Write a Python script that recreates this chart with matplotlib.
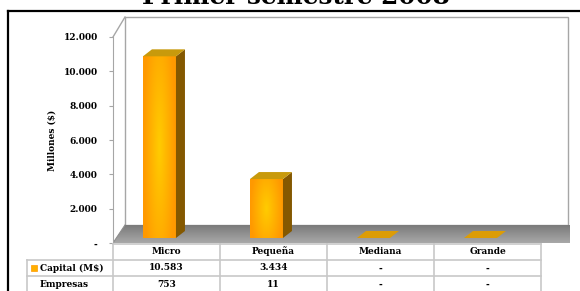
import numpy as np
import matplotlib
matplotlib.use("Agg")
import matplotlib.pyplot as plt
from matplotlib.patches import Polygon, Rectangle
from matplotlib.lines import Line2D

# datos del grafico
titulo = "Primer semestre 2008"
categorias = ["Micro", "Pequeña", "Mediana", "Grande"]
capital = [10583, 3434, 0, 0]      # millones de $
empresas = [753, 11, 0, 0]
serie_capital = "Capital (M$)"
serie_empresas = "Empresas"
eje_y = "Millones ($)"
ticks_y = [0, 2000, 4000, 6000, 8000, 10000, 12000]

W, H = 580, 291
plt.rcParams['font.family'] = ['DejaVu Serif']
plt.rcParams['font.weight'] = 'bold'


def fmt(v):
    # separador de miles con punto, cero como guion
    if v == 0:
        return "-"
    return "{:,}".format(v).replace(",", ".")


def fx(px):
    return px / W


def fy(py):
    return 1 - py / H


fig = plt.figure(figsize=(W / 100, H / 100), dpi=100)

# marco exterior
fig.add_artist(Line2D([fx(8), fx(8)], [fy(11), 0], color='black', lw=1.6))
fig.add_artist(Line2D([fx(8), 1], [fy(11), fy(11)], color='black', lw=1.6))

fig.text(fx(296), fy(3.5), titulo, ha='center', va='baseline', fontsize=17.8,
         fontweight='bold')

ax = fig.add_axes([fx(113), fy(243), (541 - 113) / W, 206 / H])
ax.set_xlim(-0.5, 3.5)
ax.set_ylim(0, 12000)
upx = 1.0 / 107          # unidades x por pixel
upy = 12000 / 206.0      # unidades y por pixel

# pared de fondo y piso (perspectiva)
dxw, dyw = 12 * upx, 20 * upy
x_right = -0.5 + (568 - 113) * upx
gris = '#a6a6a6'
ax.add_patch(Polygon([(-0.5 + dxw, 18 * upy), (-0.5 + dxw, 12000 + dyw),
                      (x_right, 12000 + dyw), (x_right, 18 * upy)],
                     closed=True, facecolor='white', edgecolor=gris, lw=1,
                     clip_on=False, zorder=0))
ax.plot([-0.5, -0.5 + dxw], [12000, 12000 + dyw], color=gris, lw=1,
        clip_on=False, zorder=1)

x_piso = x_right + 2 * upx
piso = Polygon([(-0.5, 0), (x_piso, 0), (x_piso, 18 * upy),
                (-0.5 + dxw, 18 * upy)], closed=True, facecolor='none',
               edgecolor='none', clip_on=False)
ax.add_patch(piso)
grad = np.linspace(0.66, 0.47, 50).reshape(-1, 1)
grad = np.repeat(grad, 2, axis=1)
im = ax.imshow(np.dstack([grad, grad, grad]), extent=[-0.5, x_piso, 0, 18 * upy],
               origin='lower', aspect='auto', zorder=2)
im.set_clip_box(fig.bbox)
im.set_clip_path(piso)
ax.plot([-0.5 + dxw, -0.5], [18 * upy, 0], color='#8c8c8c', lw=0.8, zorder=3)

# barras 3D
base = 5 * upy
bw = 33 * upx
ddx, ddy = 9 * upx, 7 * upy
yy, xx = np.mgrid[0:1:60j, 0:1:40j]
r = np.sqrt(((xx - 0.5) / 0.5) ** 2 + 0.35 * ((yy - 0.5) / 0.5) ** 2)
t = np.clip(r, 0, 1)[..., None]
c_centro = np.array([1.0, 0.80, 0.0])
c_borde = np.array([1.0, 0.60, 0.0])
textura = c_centro * (1 - t) + c_borde * t

for i, v in enumerate(capital):
    xl = i - 0.22
    xr = xl + bw
    top = base + v
    if v > 0:
        frente = Rectangle((xl, base), bw, v, facecolor='none', edgecolor='none')
        ax.add_patch(frente)
        img = ax.imshow(textura, extent=[xl, xr, base, top], origin='lower',
                        aspect='auto', zorder=5)
        img.set_clip_path(frente)
        ax.add_patch(Polygon([(xr, base), (xr + ddx, base + ddy),
                              (xr + ddx, top + ddy), (xr, top)], closed=True,
                             facecolor='#845800', edgecolor='none', zorder=5))
        color_tapa = '#c89a0c'
    else:
        color_tapa = '#dc9c06'
    ax.add_patch(Polygon([(xl, top), (xr, top), (xr + ddx, top + ddy),
                          (xl + ddx, top + ddy)], closed=True,
                         facecolor=color_tapa, edgecolor='none', zorder=6))

ax.set_xlim(-0.5, 3.5)
ax.set_ylim(0, 12000)

# eje y
for s in ['top', 'right', 'bottom']:
    ax.spines[s].set_visible(False)
ax.spines['left'].set_color(gris)
ax.spines['left'].set_zorder(4)
ax.set_xticks([])
ax.set_yticks(ticks_y)
ax.set_yticklabels([fmt(v) for v in ticks_y], fontsize=6.5, fontweight='bold')
ax.tick_params(axis='y', length=3, color=gris, pad=8)
ax.set_ylabel(eje_y, fontsize=6.5, fontweight='bold')
ax.yaxis.set_label_coords((57 - 113) / 428, 0.5)

# tabla de datos
lin = '#c8c8c8'
cols = [113 + 107 * k for k in range(5)]
fig.add_artist(Line2D([fx(113), fx(541)], [fy(243.5), fy(243.5)], color=lin, lw=1.2))
for yl in [259.5, 276]:
    fig.add_artist(Line2D([fx(27), fx(541)], [fy(yl), fy(yl)], color=lin, lw=1.2))
for k, xc in enumerate(cols):
    fig.add_artist(Line2D([fx(xc), fx(xc)], [fy(243.5), 0], color=lin, lw=1.2))
fig.add_artist(Line2D([fx(27), fx(27)], [fy(259.5), 0], color=lin, lw=1.2))

for i, cat in enumerate(categorias):
    xc = fx(cols[i] + 53.5)
    fig.text(xc, fy(251.5), cat, ha='center', va='center', fontsize=6.5)
    fig.text(xc, fy(268), fmt(capital[i]), ha='center', va='center', fontsize=6.5)
    fig.text(xc, fy(284.5), fmt(empresas[i]), ha='center', va='center', fontsize=6.5)

fig.add_artist(Rectangle((fx(31), fy(271)), 6 / W, 6 / H, facecolor='#ffb000',
                         edgecolor='#ff9a00', lw=0.5))
fig.text(fx(40), fy(268), serie_capital, ha='left', va='center', fontsize=6.5)
fig.text(fx(40), fy(284.5), serie_empresas, ha='left', va='center', fontsize=6.5)

fig.savefig("out.png", dpi=100)
